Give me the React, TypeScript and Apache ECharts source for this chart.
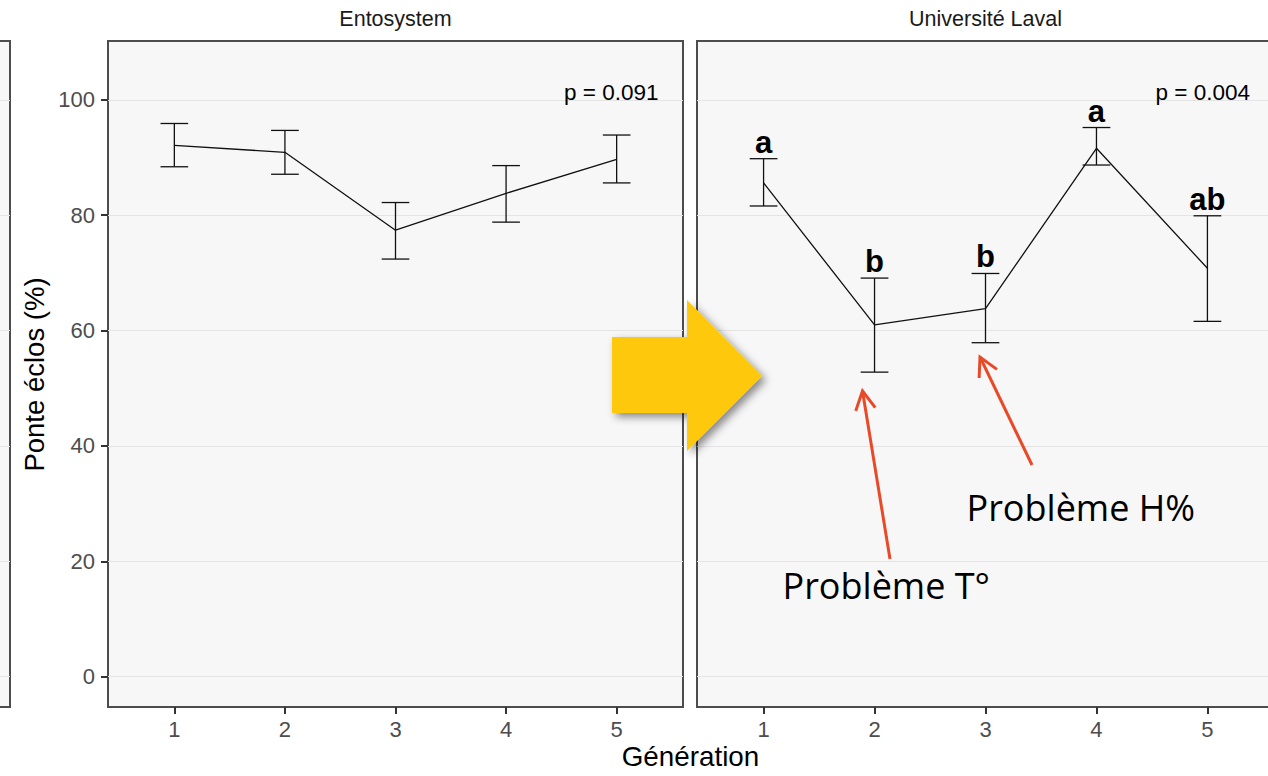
import React, { useEffect, useRef } from "react";
import * as echarts from "echarts";

// ---- data ----
const generations = [1, 2, 3, 4, 5];
const entoMean = [92.1, 90.9, 77.4, 83.8, 89.7];
const entoLow = [88.4, 87.1, 72.4, 78.8, 85.6];
const entoHigh = [95.9, 94.7, 82.2, 88.6, 93.9];
const lavalMean = [85.6, 61.0, 63.8, 91.6, 70.8];
const lavalLow = [81.6, 52.8, 57.9, 88.7, 61.6];
const lavalHigh = [89.8, 69.1, 69.9, 95.2, 79.9];
const lavalLetters = ["a", "b", "b", "a", "ab"];
const yTicks = [0, 20, 40, 60, 80, 100];
const panelTitles = ["Entosystem", "Université Laval"];
const pValues = ["p = 0.091", "p = 0.004"];
const yAxisTitle = "Ponte éclos (%)";
const xAxisTitle = "Génération";
const notes = ["Problème T°", "Problème H%"];

const FONT = "'Liberation Sans', Arial, Helvetica, sans-serif";
const Y_MIN = -5.25;
const Y_MAX = 110.2;
const X_MIN = 0.4;
const X_MAX = 5.6;

function arrowHead(x0: number, y0: number, x1: number, y1: number, len: number, ang: number) {
  const a = Math.atan2(y0 - y1, x0 - x1);
  return [
    [x1 + len * Math.cos(a + ang), y1 + len * Math.sin(a + ang)],
    [x1, y1],
    [x1 + len * Math.cos(a - ang), y1 + len * Math.sin(a - ang)],
  ];
}

function errorBarSeries(idx: number, mean: number[], low: number[], high: number[], letters?: string[]) {
  return {
    type: "custom",
    xAxisIndex: idx,
    yAxisIndex: idx,
    z: 5,
    encode: { x: 0, y: [1, 2, 3] },
    data: generations.map((g, i) => [g, mean[i], low[i], high[i]]),
    renderItem: (params: any, api: any) => {
      const x = api.value(0);
      const lo = api.coord([x, api.value(2)]);
      const hi = api.coord([x, api.value(3)]);
      const l = api.coord([x - 0.125, api.value(2)]);
      const r = api.coord([x + 0.125, api.value(2)]);
      const st = { stroke: "#111", lineWidth: 1.3, fill: null };
      const children: any[] = [
        { type: "line", shape: { x1: lo[0], y1: lo[1], x2: hi[0], y2: hi[1] }, style: st },
        { type: "line", shape: { x1: l[0], y1: lo[1], x2: r[0], y2: lo[1] }, style: st },
        { type: "line", shape: { x1: l[0], y1: hi[1], x2: r[0], y2: hi[1] }, style: st },
      ];
      if (letters) {
        children.push({
          type: "text",
          x: hi[0],
          y: hi[1] - 1,
          style: {
            text: letters[params.dataIndex],
            font: `bold 31px ${FONT}`,
            fill: "#000",
            align: "center",
            verticalAlign: "bottom",
          },
        });
      }
      return { type: "group", children };
    },
  };
}

function lineSeries(idx: number, mean: number[]) {
  return {
    type: "line",
    xAxisIndex: idx,
    yAxisIndex: idx,
    z: 4,
    symbol: "none",
    data: generations.map((g, i) => [g, mean[i]]),
    lineStyle: { color: "#111", width: 1.3 },
    itemStyle: { color: "#111" },
  };
}

function yAxis(idx: number, showLabels: boolean) {
  return {
    type: "value",
    gridIndex: idx,
    min: Y_MIN,
    max: Y_MAX,
    axisLine: { show: false, onZero: false },
    axisTick: {
      show: showLabels,
      length: 7,
      lineStyle: { color: "#333", width: 2 },
      customValues: yTicks,
    },
    axisLabel: {
      show: showLabels,
      customValues: yTicks,
      fontSize: 22,
      fontFamily: FONT,
      color: "#4d4d4d",
      margin: 13,
    },
    splitLine: { show: true, lineStyle: { color: "#e4e4e4", width: 1 } },
  };
}

function xAxis(idx: number, show: boolean) {
  return {
    type: "value",
    gridIndex: idx,
    min: X_MIN,
    max: X_MAX,
    show,
    axisLine: { show: false, onZero: false },
    axisTick: {
      show: true,
      length: 7,
      lineStyle: { color: "#333", width: 2 },
      customValues: generations,
    },
    axisLabel: {
      show: true,
      customValues: generations,
      fontSize: 22,
      fontFamily: FONT,
      color: "#4d4d4d",
      margin: 11,
    },
    splitLine: { show: false },
  };
}

const gridBase = {
  show: true,
  backgroundColor: "#f7f7f7",
  borderColor: "#4d4d4d",
  borderWidth: 2,
  top: 41,
  height: 666,
  containLabel: false,
  outerBoundsMode: "none",
};

export default function App() {
  const ref = useRef<HTMLDivElement>(null);
  useEffect(() => {
    if (!ref.current) return;
    const chart = echarts.init(ref.current, undefined, { renderer: "svg" });
    const head1 = arrowHead(890, 559, 862.5, 391, 21, 0.49);
    const head2 = arrowHead(1032, 465, 980, 357, 21, 0.49);
    const red = "#e84a28";
    chart.setOption({
      animation: false,
      backgroundColor: "#ffffff",
      grid: [
        { ...gridBase, left: 108, width: 575 },
        { ...gridBase, left: 697, width: 577 },
        { ...gridBase, left: -566, width: 576 },
      ],
      xAxis: [xAxis(0, true), xAxis(1, true), xAxis(2, false)],
      yAxis: [yAxis(0, true), yAxis(1, false), yAxis(2, false)],
      series: [
        lineSeries(0, entoMean),
        errorBarSeries(0, entoMean, entoLow, entoHigh),
        lineSeries(1, lavalMean),
        errorBarSeries(1, lavalMean, lavalLow, lavalHigh, lavalLetters),
      ],
      graphic: [
        { type: "text", x: 395.5, y: 19, style: { text: panelTitles[0], font: `21.5px ${FONT}`, fill: "#1a1a1a", align: "center", verticalAlign: "middle" } },
        { type: "text", x: 985.5, y: 19, style: { text: panelTitles[1], font: `21.5px ${FONT}`, fill: "#1a1a1a", align: "center", verticalAlign: "middle" } },
        { type: "text", x: 658.5, y: 92.5, z: 10, style: { text: pValues[0], font: `22.5px ${FONT}`, fill: "#000", align: "right", verticalAlign: "middle" } },
        { type: "text", x: 1250, y: 92.5, z: 10, style: { text: pValues[1], font: `22.5px ${FONT}`, fill: "#000", align: "right", verticalAlign: "middle" } },
        { type: "text", x: 34, y: 374.5, rotation: Math.PI / 2, style: { text: yAxisTitle, font: `27.5px ${FONT}`, fill: "#000", align: "center", verticalAlign: "middle" } },
        { type: "text", x: 690.5, y: 756, style: { text: xAxisTitle, font: `27.8px ${FONT}`, fill: "#000", align: "center", verticalAlign: "middle" } },
        {
          type: "polygon",
          z: 20,
          shape: { points: [[612, 337], [687, 337], [687, 300], [762, 376], [687, 451], [687, 413], [612, 413]] },
          style: { fill: "#fec909", shadowBlur: 8, shadowOffsetX: 4, shadowOffsetY: 4, shadowColor: "rgba(0,0,0,0.45)" },
        },
        { type: "line", z: 20, shape: { x1: 890, y1: 559, x2: 862.5, y2: 391 }, style: { stroke: red, lineWidth: 3 } },
        { type: "polyline", z: 20, shape: { points: head1 }, style: { stroke: red, lineWidth: 3, fill: null } },
        { type: "line", z: 20, shape: { x1: 1032, y1: 465, x2: 980, y2: 357 }, style: { stroke: red, lineWidth: 3 } },
        { type: "polyline", z: 20, shape: { points: head2 }, style: { stroke: red, lineWidth: 3, fill: null } },
        { type: "text", x: 782.5, y: 585, z: 20, style: { text: notes[0], font: `36px 'Open Sans', sans-serif`, fill: "#000", align: "left", verticalAlign: "middle" } },
        { type: "text", x: 966.5, y: 507, z: 20, style: { text: notes[1], font: `36px 'Open Sans', sans-serif`, fill: "#000", align: "left", verticalAlign: "middle" } },
      ],
    });
    return () => chart.dispose();
  }, []);
  return (
    <div
      ref={ref}
      style={{ position: "fixed", left: 0, top: 0, width: 1268, height: 776, background: "#fff" }}
    />
  );
}
